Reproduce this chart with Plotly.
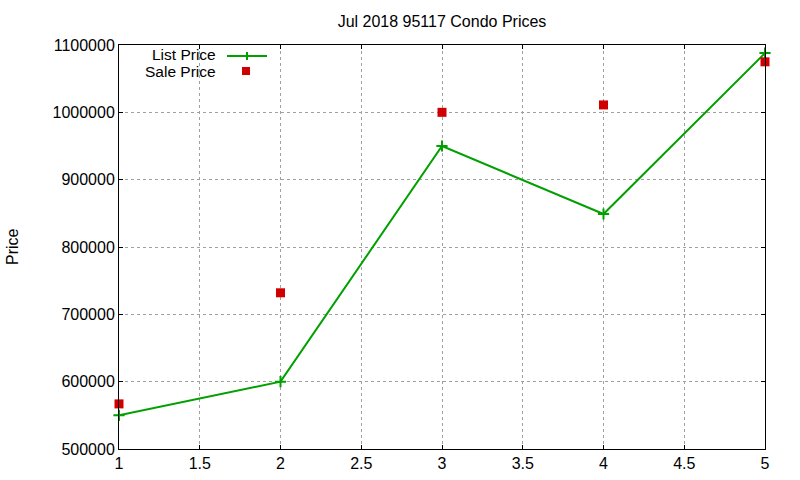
import plotly.graph_objects as go

x_vals = [1, 2, 3, 4, 5]
list_price = [550000, 600000, 950000, 849000, 1088000]
sale_price = [567000, 732000, 1000000, 1011000, 1075000]
title_text = "Jul 2018 95117 Condo Prices"
y_label = "Price"

FONT = "Liberation Sans, Arial, sans-serif"
FS = 16
GREEN = "#00a000"
RED = "#d00000"

fig = go.Figure()
fig.add_trace(go.Scatter(x=x_vals, y=list_price, mode="lines+markers", name="List Price",
                         line=dict(color=GREEN, width=2), cliponaxis=False,
                         marker=dict(symbol="cross-thin", size=8, line=dict(color=GREEN, width=2))))
fig.add_trace(go.Scatter(x=x_vals, y=sale_price, mode="markers", name="Sale Price", cliponaxis=False,
                         marker=dict(symbol="square", size=9, color=RED)))

L, R, T, B = 119, 35, 45, 31
W, H = 800, 480
pw, ph = W - L - R, H - T - B

def px(xp):
    return (xp - L) / pw

def py(yp):
    return (H - B - yp) / ph

ann = [
    dict(text="List Price", x=px(218), y=py(54), xref="paper", yref="paper", xanchor="right", yanchor="middle",
         showarrow=False, font=dict(size=15.5, family=FONT, color="black")),
    dict(text="Sale Price", x=px(218), y=py(71.5), xref="paper", yref="paper", xanchor="right", yanchor="middle",
         showarrow=False, font=dict(size=15.5, family=FONT, color="black")),
    dict(text=y_label, x=px(12), y=py(247), xref="paper", yref="paper", showarrow=False, textangle=-90,
         xanchor="center", yanchor="middle", font=dict(size=FS, family=FONT, color="black")),
]
shapes = [
    dict(type="line", xref="paper", yref="paper", x0=px(227), x1=px(267), y0=py(56), y1=py(56), line=dict(color=GREEN, width=2)),
    dict(type="line", xref="paper", yref="paper", x0=px(247), x1=px(247), y0=py(52), y1=py(60), line=dict(color=GREEN, width=2)),
    dict(type="rect", xref="paper", yref="paper", x0=px(242), x1=px(250), y0=py(67), y1=py(75), fillcolor=RED, line=dict(width=0)),
]

fig.update_layout(
    width=W, height=H,
    margin=dict(l=L, r=R, t=T, b=B, autoexpand=False),
    paper_bgcolor="white", plot_bgcolor="white",
    showlegend=False,
    font=dict(family=FONT, size=FS, color="black"),
    title=dict(text=title_text, x=0.5 * (L + (W - R)) / W, xanchor="center", y=1 - 21 / H, yanchor="middle",
               font=dict(size=FS, family=FONT)),
    annotations=ann,
    shapes=shapes,
)

fig.update_xaxes(range=[1, 5], tick0=1, dtick=0.5, showgrid=True, gridcolor="#a0a0a0", griddash="dot", gridwidth=1,
                 showline=True, linecolor="black", linewidth=1, mirror="allticks", ticks="inside", ticklen=4,
                 tickcolor="black", zeroline=False, automargin=False, tickfont=dict(size=FS, family=FONT))
fig.update_yaxes(range=[500000, 1100000], tick0=500000, dtick=100000, showgrid=True, gridcolor="#a0a0a0", griddash="dot",
                 gridwidth=1, showline=True, linecolor="black", linewidth=1, mirror="allticks", ticks="inside", ticklen=4,
                 tickcolor="black", zeroline=False, automargin=False, tickformat="d", tickfont=dict(size=FS, family=FONT))

fig.write_html("out.html")
